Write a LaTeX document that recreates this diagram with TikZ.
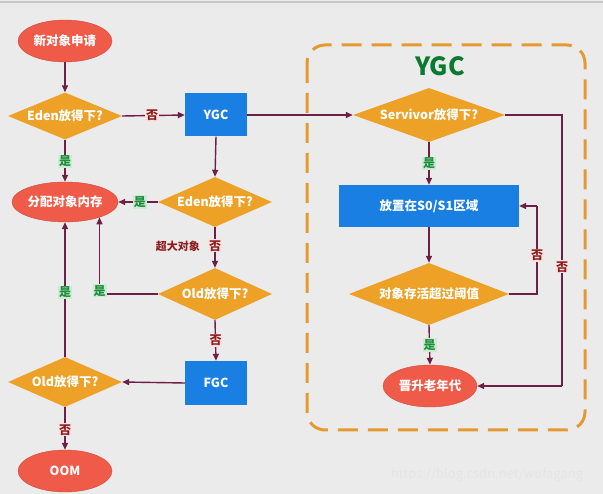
\documentclass[tikz,border=0pt]{standalone}
\usepackage{fontspec}
\setmainfont{Noto Sans CJK SC}
\usetikzlibrary{shapes.geometric,arrows.meta}
\definecolor{bg}{HTML}{ECEBEB}
\definecolor{ored}{HTML}{F05A48}
\definecolor{oorange}{HTML}{EDA126}
\definecolor{oblue}{HTML}{1A7FE2}
\definecolor{conn}{HTML}{6E1F46}
\definecolor{ygreen}{HTML}{1E8E3E}
\definecolor{ygreenbg}{HTML}{CDEBD3}
\definecolor{nred}{HTML}{8E1C1C}
\definecolor{nredbg}{HTML}{F7E3E3}
\definecolor{dgreen}{HTML}{0B7A30}
\definecolor{frameorange}{HTML}{E49A30}
\begin{document}
\begin{tikzpicture}[x=1pt,y=-1pt,
  txt/.style={text=white,font=\bfseries\fontsize{12.5}{13}\selectfont},
  oval/.style={ellipse,fill=ored,draw=ored!85!black,line width=0.4pt,minimum width=94pt,minimum height=42pt,inner sep=0pt,txt},
  dia/.style={diamond,aspect=2.5,fill=oorange,inner sep=0pt,txt},
  rbox/.style={rectangle,fill=oblue,inner sep=0pt,txt},
  arr/.style={draw=conn,line width=1.4pt,-{Triangle[length=7pt,width=6pt]}},
  yes/.style={fill=ygreenbg,text=ygreen,inner sep=1pt,font=\bfseries\fontsize{12}{12}\selectfont},
  no/.style={fill=nredbg,text=nred,inner sep=1pt,font=\bfseries\fontsize{12}{12}\selectfont}]
\fill[bg] (0,0) rectangle (603,494);
\useasboundingbox (0,0) rectangle (603,494);
\draw[gray!45,line width=1.5pt] (0,2) -- (603,2);

% YGC group frame
\draw[frameorange,line width=3pt,dash pattern=on 20pt off 10pt,rounded corners=18pt] (307,45) rectangle (585,430);
\node[text=dgreen,font=\bfseries\fontsize{25}{25}\selectfont] (ygclabel) at (440,66) {YGC};

% nodes
\node[oval] (new) at (65,41) {新对象申请};
\node[dia,minimum width=114pt,minimum height=47pt] (d1) at (65,116) {Eden放得下?};
\node[rbox,minimum width=62pt,minimum height=43pt] (ygc) at (216,115) {YGC};
\node[oval,minimum height=40pt] (alloc) at (65,202) {分配对象内存};
\node[dia,minimum width=114pt,minimum height=50pt] (d2) at (215,202) {Eden放得下?};
\node[dia,minimum width=114pt,minimum height=52pt] (d3) at (215,294) {Old放得下?};
\node[rbox,minimum width=62pt,minimum height=44pt] (fgc) at (216,383) {FGC};
\node[dia,minimum width=114pt,minimum height=50pt] (d4) at (65,382) {Old放得下?};
\node[oval] (oom) at (65,471) {OOM};

\node[dia,minimum width=152pt,minimum height=54pt] (sv) at (429,115) {Servivor放得下?};
\node[rbox,minimum width=180pt,minimum height=42pt] (s01) at (429,206) {放置在S0/S1区域};
\node[dia,minimum width=160pt,minimum height=62pt] (age) at (429,294) {对象存活超过阈值};
\node[oval] (old) at (430,386) {晋升老年代};

\coordinate (c15) at (537,206);
\coordinate (c16) at (562,386);

% connectors
\draw[arr] (new) -- (d1);
\draw[arr] (d1.east) -- node[no,pos=0.48] {否} (ygc.west);
\draw[arr] (d1.south) -- node[yes,pos=0.52] {是} (alloc.north);
\draw[arr] (ygc.south) -- (d2.north);
\draw[arr] (ygc.east) -- (sv.west);
\draw[arr] (d2.west) -- node[yes,pos=0.45] {是} (alloc.east);
\draw[arr] (d2.south) -- node[no,pos=0.46] (n7) {否} (d3.north);
\node[text=nred,font=\bfseries\fontsize{11}{11}\selectfont,anchor=east] (big) at ([xshift=-4pt]n7.west) {超大对象};
\draw[arr] (d3.west) -| node[yes,pos=0.52] {是} (alloc.-24);
\draw[arr] (d3.south) -- node[no,pos=0.5] {否} (fgc.north);
\draw[arr] (fgc.west) -- (d4.east);
\draw[arr] (d4.north) -- node[yes,pos=0.48] {是} (alloc.south);
\draw[arr] (d4.south) -- node[no,pos=0.53] {否} (oom.north);
\draw[arr] (sv.south) -- node[yes,pos=0.5] {是} (s01.north);
\draw[arr] (s01.south) -- (age.north);
\draw[line width=1.4pt,draw=conn] (age.east) -| node[no,pos=0.72] {否} (c15);
\draw[arr] (c15) -- (s01.east);
\draw[line width=1.4pt,draw=conn] (sv.east) -| node[no,pos=0.78] {否} (c16);
\draw[arr] (c16) -- (old.east);
\draw[arr] (age.south) -- node[yes,pos=0.5] {是} (old.north);

\node[text=white!80!gray,font=\fontsize{13}{13}\selectfont] (wm) at (487,475) {https://blog.csdn.net/wufagang};
\end{tikzpicture}
\end{document}
